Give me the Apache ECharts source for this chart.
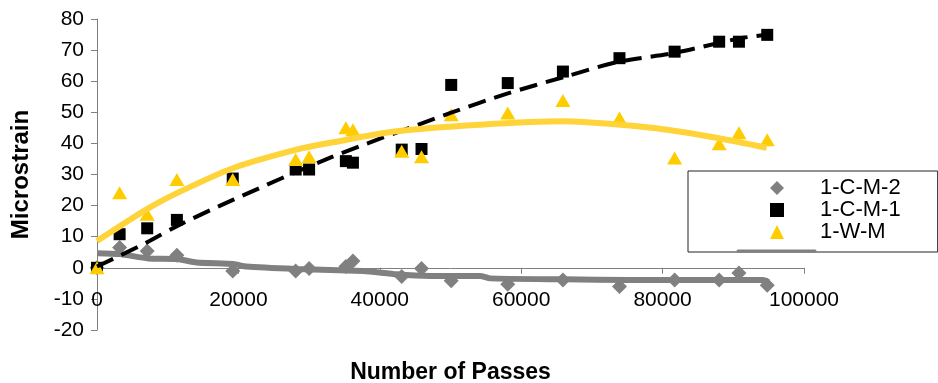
<!DOCTYPE html>
<html>
<head>
<meta charset="utf-8">
<script src="https://cdn.jsdelivr.net/npm/echarts@6/dist/echarts.min.js"></script>
<style>html,body{margin:0;padding:0;background:#fff;}#c{width:938px;height:383px;}</style>
</head>
<body>
<div id="c"></div>
<script>
// Number of passes for each reading
const passes = [0, 3200, 7100, 11300, 19200, 28100, 30000, 35200, 36200, 43100, 45900, 50100, 58100, 65900, 73900, 81700, 88000, 90800, 94800];
// Microstrain readings
const cm2 = [0, 6.5, 5.4, 4.0, -1.0, -1.0, -0.2, 0.4, 2.2, -2.8, -0.2, -4.2, -5.3, -3.9, -6.0, -3.9, -3.9, -1.7, -5.6];
const cm1 = [0, 10.8, 12.7, 15.4, 28.7, 31.6, 31.6, 34.3, 33.8, 38.0, 38.2, 58.8, 59.4, 63.1, 67.4, 69.5, 72.7, 72.7, 74.9];
const wm  = [0, 24.1, 17.2, 28.4, 28.4, 34.8, 35.7, 45.0, 44.4, 37.5, 35.7, 49.2, 49.8, 53.8, 48.2, 35.3, 39.9, 43.4, 41.2];
// Trend lines
const cm1TrendX = [0, 7000, 11300, 19300, 33000, 50000, 58000, 66000, 73900, 81500, 91000, 95000];
const cm1TrendY = [0.4, 8.1, 13.4, 21.9, 35.4, 49.8, 56.0, 61.3, 66.3, 69.0, 73.8, 75.0];
const wmTrendX = [0, 3250, 7000, 11300, 19300, 28200, 33000, 42400, 54200, 66000, 74000, 80600, 87600, 94700];
const wmTrendY = [8.6, 13.4, 18.8, 24.0, 32.1, 38.0, 40.2, 43.9, 46.0, 47.1, 46.0, 44.4, 41.8, 38.6];
const cm2TrendX = [0, 3200, 7250, 11300, 14100, 19300, 21150, 28150, 33000, 37700, 42400, 47100, 54200, 55600, 66000, 75400, 94200, 95000];
const cm2TrendY = [4.7, 4.4, 3.0, 2.8, 1.7, 1.2, 0.4, -0.4, -0.7, -1.0, -2.1, -2.6, -2.6, -3.4, -3.7, -3.9, -3.9, -4.6];
// Axis ticks
const xTicks = {min: 0, max: 100000, interval: 20000};
const yTicks = {min: -20, max: 80, interval: 10};
const seriesNames = ['1-C-M-2', '1-C-M-1', '1-W-M'];

const zip = (xs, ys) => xs.map((x, i) => [x, ys[i]]);
const FONT = 'Arial, "Liberation Sans", sans-serif';

const chart = echarts.init(document.getElementById('c'));
chart.setOption({
  animation: false,
  backgroundColor: '#fff',
  textStyle: {fontFamily: FONT},
  grid: {left: 97, right: 134, top: 19, bottom: 53, containLabel: false, outerBoundsMode: 'none'},
  xAxis: {
    type: 'value', min: xTicks.min, max: xTicks.max, interval: xTicks.interval,
    name: 'Number of Passes', nameLocation: 'middle', nameGap: 31,
    nameTextStyle: {fontFamily: FONT, fontSize: 23, fontWeight: 'bold', color: '#000'},
    axisLine: {onZero: true, lineStyle: {color: '#808080', width: 1}},
    axisTick: {show: true, length: 6, lineStyle: {color: '#808080'}},
    axisLabel: {fontFamily: FONT, fontSize: 21, color: '#000', margin: -40,
      formatter: v => String(v)},
    splitLine: {show: false}
  },
  yAxis: {
    type: 'value', min: yTicks.min, max: yTicks.max, interval: yTicks.interval,
    name: 'Microstrain', nameLocation: 'middle', nameGap: 64,
    nameTextStyle: {fontFamily: FONT, fontSize: 24, fontWeight: 'bold', color: '#000'},
    axisLine: {show: true, onZero: false, lineStyle: {color: '#808080', width: 1}},
    axisTick: {show: true, length: 6, lineStyle: {color: '#808080'}},
    axisLabel: {fontFamily: FONT, fontSize: 21, color: '#000', margin: 13,
      formatter: v => String(v)},
    splitLine: {show: false}
  },
  legend: {
    data: [
      {name: seriesNames[0], icon: 'diamond'},
      {name: seriesNames[1], icon: 'rect'},
      {name: seriesNames[2], icon: 'triangle'}
    ],
    orient: 'vertical', left: 688, top: 171,
    padding: [6, 37, 9, 82],
    itemGap: 0, itemWidth: 14, itemHeight: 14,
    borderColor: '#222', borderWidth: 1, backgroundColor: '#fff',
    textStyle: {fontFamily: FONT, fontSize: 22, color: '#000', lineHeight: 22, padding: [0, 0, 0, 31]},
    selectedMode: false
  },
  graphic: [{
    type: 'line', z: 100,
    shape: {x1: 738, y1: 251, x2: 815, y2: 251},
    style: {stroke: '#808080', lineWidth: 3, lineCap: 'round'}
  }],
  series: [
    {name: seriesNames[0], type: 'scatter', data: zip(passes, cm2), symbol: 'diamond', symbolSize: 15,
     itemStyle: {color: '#808080', opacity: 1}, z: 2},
    {name: seriesNames[1], type: 'scatter', data: zip(passes, cm1), symbol: 'rect', symbolSize: 12,
     itemStyle: {color: '#000000', opacity: 1}, z: 3},
    {name: seriesNames[2], type: 'scatter', data: zip(passes, wm), symbol: 'triangle', symbolSize: [15, 13],
     itemStyle: {color: '#FFCC00', opacity: 1}, z: 4},
    {name: 'cm2Trend', type: 'line', data: zip(cm2TrendX, cm2TrendY), showSymbol: false, smooth: 0.2,
     lineStyle: {color: '#808080', width: 6}, z: 5, silent: true},
    {name: 'cm1Trend', type: 'line', data: zip(cm1TrendX, cm1TrendY), showSymbol: false, smooth: 0.3,
     lineStyle: {color: '#000000', width: 4, type: [18, 9]}, z: 6, silent: true},
    {name: 'wmTrend', type: 'line', data: zip(wmTrendX, wmTrendY), showSymbol: false, smooth: 0.3,
     lineStyle: {color: '#FFD43B', width: 6}, z: 7, silent: true}
  ]
});
</script>
</body>
</html>
